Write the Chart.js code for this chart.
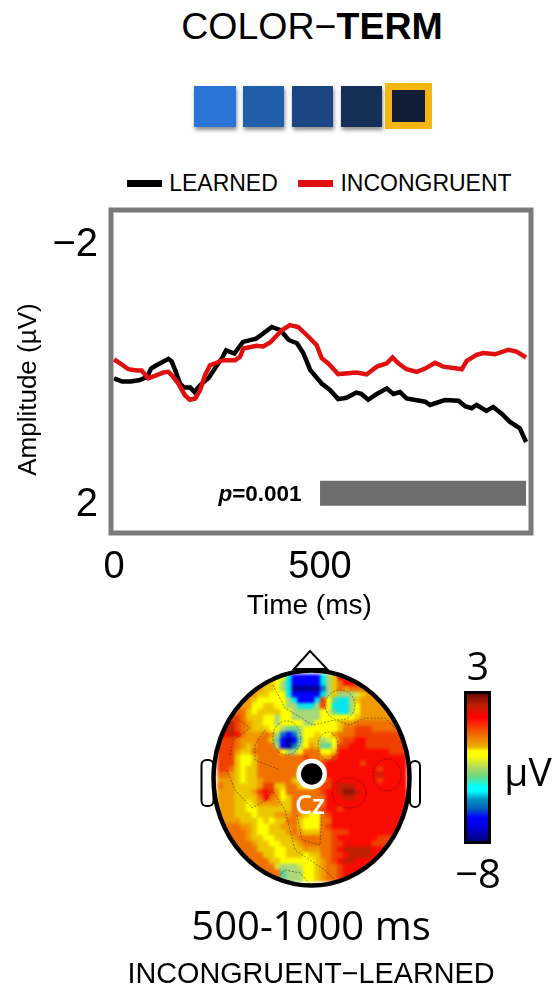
<!DOCTYPE html>
<html>
<head>
<meta charset="utf-8">
<script src="https://cdn.jsdelivr.net/npm/chart.js@4"></script>
<style>
html,body{margin:0;padding:0;background:#fff;width:553px;height:989px;overflow:hidden}
#stage{position:relative;width:553px;height:989px;font-family:"Liberation Sans",Arial,sans-serif;color:#000}
.t{position:absolute;white-space:nowrap;transform:translate(-50%,-50%);line-height:1}
.o{font-family:"Open Sans",sans-serif}
.sq{position:absolute;box-shadow:1px 3px 4px rgba(0,0,0,.45)}
.lg{position:absolute;height:7px;width:35px;top:180px}
#main{position:absolute;left:0;top:0}
#head{position:absolute;left:213px;top:670px;filter:blur(1.5px)}
#over{position:absolute;left:0;top:0}
#bar{position:absolute;left:464px;top:691px;width:21px;height:147px;border:3px solid #000;
background:linear-gradient(to bottom,#700800 0%,#c02000 8%,#ff0000 16%,#f07000 28%,#e8b000 36%,#ffff00 39%,#ffff00 42%,#b0d860 50%,#70d880 56%,#00ffff 63%,#00ffff 66%,#0090c0 72%,#0060c0 78%,#0000ff 84%,#0000e0 90%,#000080 100%)}
</style>
</head>
<body>
<div id="stage">
  <div class="t" style="left:312px;top:27px;font-size:37.5px">COLOR−<b>TERM</b></div>
  <div class="sq" style="left:194px;top:86px;width:42px;height:41px;background:#2a74d6"></div>
  <div class="sq" style="left:243px;top:86px;width:41px;height:41px;background:#2060ab"></div>
  <div class="sq" style="left:292px;top:86px;width:41px;height:41px;background:#1b4583"></div>
  <div class="sq" style="left:341px;top:86px;width:41px;height:41px;background:#143058"></div>
  <div style="position:absolute;left:385px;top:83px;width:33px;height:32px;border:7px solid #f5b70f;background:#121d36"></div>

  <div class="lg" style="left:127px;background:#000"></div>
  <div class="t" style="left:223.5px;top:183px;font-size:23px">LEARNED</div>
  <div class="lg" style="left:298px;background:#e01010"></div>
  <div class="t" style="left:426px;top:183px;font-size:23px">INCONGRUENT</div>

  <canvas id="main" width="553" height="630"></canvas>
  <div class="t" style="left:260px;top:494px;font-size:22.5px;font-weight:bold"><i>p</i>=0.001</div>

  <canvas id="head" width="198" height="216"></canvas>
  <svg id="over" width="553" height="989" xmlns="http://www.w3.org/2000/svg">
    <polygon points="294,669 310,651 327,669" fill="#fff" stroke="#000" stroke-width="2"/>
    <rect x="201.5" y="760" width="12" height="46" rx="5" fill="#fff" stroke="#000" stroke-width="2"/>
    <rect x="410" y="761" width="10" height="46" rx="5" fill="#fff" stroke="#000" stroke-width="2"/>
    <g fill="none" stroke="#222" stroke-width="0.7" stroke-dasharray="2 1.5" opacity="0.7">
      <ellipse cx="286.7" cy="738" rx="14" ry="17"/>
      <ellipse cx="340" cy="705" rx="15" ry="15"/>
      <ellipse cx="328" cy="746" rx="10" ry="14"/>
      <ellipse cx="349" cy="793" rx="17" ry="15"/>
      <ellipse cx="387" cy="775" rx="14" ry="16"/>
      <path d="M273,685 L285,708 L313,725 L335,720 L350,725 L365,718 L385,718 L402,735"/>
      <path d="M230,755 L233,740 L250,728 L232,715"/>
      <path d="M227,770 L235,790 L252,808 L266,800 L272,790 L285,810 L295,850 L325,870 L340,885"/>
      <path d="M265,730 L255,745 L255,760 L280,770"/>
      <path d="M297,815 L302,840 L320,845 L322,810"/>
      <path d="M275,880 L285,870 L300,873 L310,884"/>
    </g>
    <ellipse cx="311.5" cy="778" rx="98" ry="107.5" fill="none" stroke="#000" stroke-width="4.5"/>
    <circle cx="311.7" cy="774" r="13" fill="#000" stroke="#fff" stroke-width="4.5"/>
  </svg>
  <div class="t o" style="left:310px;top:803px;font-size:27px;font-weight:600;color:#fff">Cz</div>

  <div class="t o" style="left:478px;top:664px;font-size:39px">3</div>
  <div id="bar"></div>
  <div class="t o" style="left:528px;top:770px;font-size:39px">μV</div>
  <div class="t o" style="left:478px;top:873px;font-size:40px">−8</div>
  <div class="t o" style="left:311px;top:925px;font-size:40px">500-1000 ms</div>
  <div class="t" style="left:311px;top:973px;font-size:28.8px">INCONGRUENT−LEARNED</div>
</div>
<script>
const learnedTimes = [0,20,40,60,80,90,100,120,132,140,150,160,170,185,195,210,230,250,262,272,292,313,345,362,383,404,424,444,460,476,504,524,544,564,588,600,617,638,662,678,694,710,755,767,803,836,852,868,880,904,920,940,961,985,1000];
const learnedValues = [0.05,0.10,0.10,0.08,0.03,-0.10,-0.14,-0.21,-0.25,-0.21,-0.05,0.13,0.19,0.19,0.26,0.15,0.04,-0.15,-0.26,-0.38,-0.33,-0.51,-0.56,-0.64,-0.74,-0.69,-0.54,-0.49,-0.33,-0.08,0.13,0.23,0.37,0.35,0.27,0.29,0.38,0.29,0.205,0.29,0.26,0.36,0.41,0.46,0.385,0.395,0.48,0.51,0.46,0.55,0.49,0.59,0.72,0.82,1.03];
const incongruentTimes = [0,15,35,55,67,83,104,120,132,140,156,172,184,197,209,221,233,249,265,294,306,314,346,362,379,407,427,447,472,492,504,520,544,589,613,638,662,676,690,710,735,755,779,799,824,844,856,880,896,925,957,977,1000];
const incongruentValues = [-0.24,-0.18,-0.09,-0.07,-0.07,0.05,0,-0.04,-0.05,0,0.13,0.31,0.38,0.36,0.23,0,-0.15,-0.19,-0.23,-0.23,-0.28,-0.41,-0.45,-0.44,-0.50,-0.69,-0.77,-0.74,-0.59,-0.46,-0.26,-0.18,-0.015,-0.04,-0.01,-0.13,-0.18,-0.27,-0.18,-0.09,-0.05,-0.10,-0.19,-0.13,-0.11,-0.09,-0.22,-0.31,-0.34,-0.32,-0.39,-0.36,-0.27];
const significantWindow = [500,1000];
const significantLevel = [1.82,1.82];
const xTicks = [0,500];
const yTicks = [-2,2];

/* Scalp map: one row per line, one character per grid cell (colour-bar step, hex). */
const scalpRows = [
"777777777777311111358ccdaaaaaaaaa",
"888888888875311111358acccbaaaaaaa",
"999999998875300000258a9aaabaaaaaa",
"999999988777311111358555689999999",
"999999877777531113b74335899999999",
"999999778877553335b73335799999999",
"aaaaa8788887755555764335799999999",
"bbbba888775775555577777789 9999999".replace(" ",""),
"bcdba9887757777557777899aaaaaaaaa",
"cddba98887754457777778aabbbaaaaaa",
"ccdca999a952125778779aaabbbbbbbbb",
"bbba999aa841014788567abbccbbbbbbb",
"bbba989aaa51025798447bbcccbbbbbbb",
"bbb988aaaaa7557aaa778cccccccccbbb",
"bbb8778aaaaaaaabaa99bcccccccccccc",
"bbb8778aaaaaaaaaaabccccccbccccccc",
"bba8788aaaaaaa8888acccccccccbcccc",
"aa98788aaaaaaa7688acccccccccdcccc",
"99987889aaaaa86458abccccccccbcccc",
"a9988889bb88aa878abbcdddccccccccc",
"9998889bcb97aaaaaabccdeedcccccccc",
"9998888aca978aaaaaacccddccccccccc",
"99988789999 88aaaaaacccccccccccccc".replace(" ",""),
"9998877888888aaaaabccbccccccccccc",
"9998887888999a9877abccccccccccccc",
"999988878788aa8777aaccccccccccccc",
"aaaa998778899a8777abccccccccccccc",
"aaaaa98778889a9888aabbbcccccccccc",
"aaaaa988778889aaaaaabcccccccbbbbb",
"aaaaaa988778889aaaaabbcccccbbbbbb",
"aaaaaaa88877888999aabcdddddcccccc",
"aaaaaaaa887788878 8aabbcddddcccccc".replace(" ",""),
"aaaaaaaaa887777778 9abcddccccccccc".replace(" ",""),
"aaaaaaaaaa6555677 89aabccccccccccc".replace(" ",""),
"aaaaaaaaaaa45557789aabccccccccccc",
"aaaaaaaaaaa45557789aabccccccccccc"
];
const stepColors = ["#000090","#0000ff","#0070d0","#00e8f0","#60d0a0","#a8d878","#d8e840","#ffff00","#ecc800","#f09a00","#f07000","#f04000","#fa0a00","#c02000","#901008"];

Chart.defaults.animation = false;

const pairs = (xs, ys) => xs.map((x, i) => ({x, y: ys[i]}));

const frame = {
  id: 'frame',
  afterDraw(c) {
    const a = c.chartArea, g = c.ctx;
    g.save(); g.strokeStyle = '#7a7a7a'; g.lineWidth = 5;
    g.strokeRect(a.left, a.top, a.right - a.left, a.bottom - a.top);
    g.restore();
  }
};

new Chart(document.getElementById('main'), {
  type: 'scatter',
  plugins: [frame],
  data: { datasets: [
    { label: 'INCONGRUENT', data: pairs(incongruentTimes, incongruentValues), showLine: true, borderColor: '#e01010', borderWidth: 4.5, pointRadius: 0, order: 0 },
    { label: 'LEARNED', data: pairs(learnedTimes, learnedValues), showLine: true, borderColor: '#000', borderWidth: 4.5, pointRadius: 0, order: 1 },
    { label: 'p=0.001', data: pairs(significantWindow, significantLevel), showLine: true, borderColor: '#6e6e6e', borderWidth: 25, borderCapStyle: 'butt', pointRadius: 0, order: 2 }
  ]},
  options: {
    responsive: false,
    devicePixelRatio: 1,
    layout: { padding: { top: 210, right: 22, left: 0, bottom: 0 } },
    plugins: { legend: { display: false }, tooltip: { enabled: false } },
    scales: {
      x: {
        type: 'linear', min: -7.3, max: 1012,
        grid: { display: false }, border: { display: false },
        afterFit(s) { s.height = 97; },
        afterBuildTicks(s) { s.ticks = xTicks.map(value => ({value})); },
        ticks: { maxRotation: 0, autoSkip: false, padding: 4, color: '#000', font: { family: '"Liberation Sans"', size: 38 } },
        title: { display: true, text: 'Time (ms)   ', color: '#000', font: { family: '"Liberation Sans"', size: 28 }, padding: { top: 0, bottom: 7 } }
      },
      y: {
        type: 'linear', reverse: true, min: -2.54, max: 2.43,
        grid: { display: false }, border: { display: false },
        afterFit(s) { s.width = 111; },
        afterBuildTicks(s) { s.ticks = yTicks.map(value => ({value})); },
        ticks: { padding: 5, color: '#000', autoSkip: false, font: { family: '"Liberation Sans"', size: 40 },
          callback: v => (v < 0 ? '−' + Math.abs(v) : String(v)) },
        title: { display: true, text: 'Amplitude (µV)     ', color: '#000', font: { family: '"Liberation Sans"', size: 26 }, padding: { top: 13, bottom: 0 } }
      }
    }
  }
});

const clipHead = {
  id: 'clipHead',
  beforeDatasetsDraw(c) {
    const g = c.ctx;
    g.save(); g.beginPath();
    g.ellipse(98.5, 108, 98, 107.5, 0, 0, Math.PI * 2);
    g.clip();
  },
  afterDatasetsDraw(c) { c.ctx.restore(); }
};

const cells = [];
const cellColors = [];
scalpRows.forEach((row, r) => {
  for (let k = 0; k < 33; k++) {
    const step = parseInt(row[Math.min(k, row.length - 1)], 16);
    cells.push({x: k, y: r});
    cellColors.push(stepColors[isNaN(step) ? 10 : step]);
  }
});

new Chart(document.getElementById('head'), {
  type: 'scatter',
  plugins: [clipHead],
  data: { datasets: [{ label: 'Scalp map (μV)', data: cells, pointStyle: 'rect', pointRadius: 4.7, pointBorderWidth: 0, pointBackgroundColor: cellColors, clip: false }] },
  options: {
    responsive: false,
    devicePixelRatio: 1,
    layout: { padding: 0 },
    plugins: { legend: { display: false }, tooltip: { enabled: false } },
    scales: {
      x: { type: 'linear', display: false, min: -0.5, max: 32.5 },
      y: { type: 'linear', display: false, reverse: true, min: -0.5, max: 35.5 }
    }
  }
});
</script>
</body>
</html>
